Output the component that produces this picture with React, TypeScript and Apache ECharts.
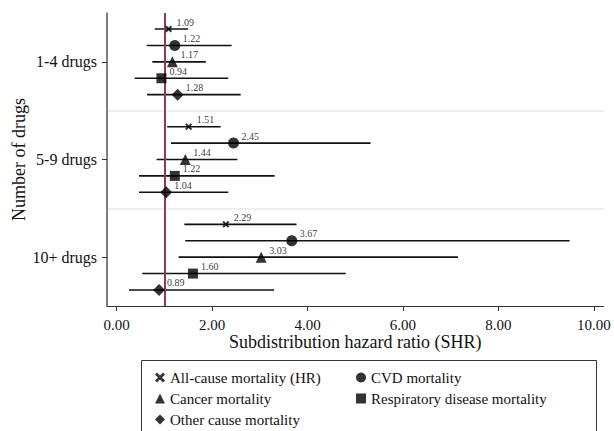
import React, { useEffect, useRef } from "react";
import * as echarts from "echarts";

const groups = ["1-4 drugs", "5-9 drugs", "10+ drugs"];
const outcomes = [
  "All-cause mortality (HR)",
  "CVD mortality",
  "Cancer mortality",
  "Respiratory disease mortality",
  "Other cause mortality",
];
// estimates per outcome, per group (1-4, 5-9, 10+)
const estAll = [1.09, 1.51, 2.29];
const loAll = [0.8, 1.06, 1.42];
const hiAll = [1.5, 2.18, 3.77];
const estCvd = [1.22, 2.45, 3.67];
const loCvd = [0.63, 1.14, 1.44];
const hiCvd = [2.41, 5.32, 9.49];
const estCancer = [1.17, 1.44, 3.03];
const loCancer = [0.75, 0.84, 1.3];
const hiCancer = [1.87, 2.53, 7.15];
const estResp = [0.94, 1.22, 1.6];
const loResp = [0.38, 0.47, 0.54];
const hiResp = [2.34, 3.31, 4.8];
const estOther = [1.28, 1.04, 0.89];
const loOther = [0.64, 0.47, 0.26];
const hiOther = [2.6, 2.34, 3.3];
const xTicks = [0, 2, 4, 6, 8, 10];
const refValue = 1;

const CROSS = "path://M2,0 L5,3 L8,0 L10,2 L7,5 L10,8 L8,10 L5,7 L2,10 L0,8 L3,5 L0,2 Z";
const FONT = "'Liberation Serif', 'Times New Roman', serif";
const ROW = 0.168;

export default function App() {
  const ref = useRef<HTMLDivElement>(null);
  useEffect(() => {
    if (!ref.current) return;
    const chart = echarts.init(ref.current, null, { renderer: "svg" });
    const est = [estAll, estCvd, estCancer, estResp, estOther];
    const lo = [loAll, loCvd, loCancer, loResp, loOther];
    const hi = [hiAll, hiCvd, hiCancer, hiResp, hiOther];
    const symbols = [CROSS, "circle", "triangle", "rect", "diamond"];
    const sizes = [7, 11, 11, 10, 12];
    const yPos = (g: number, k: number) => g + 0.5 + (k - 2) * ROW;

    const barData: number[][] = [];
    outcomes.forEach((_, k) => {
      groups.forEach((_, g) => {
        barData.push([yPos(g, k), lo[k][g], hi[k][g]]);
      });
    });

    const scatterSeries = outcomes.map((name, k) => ({
      type: "scatter",
      name,
      symbol: symbols[k],
      symbolSize: sizes[k],
      itemStyle: { color: "#000" },
      z: 5,
      data: groups.map((_, g) => [est[k][g], yPos(g, k)]),
      label: {
        show: true,
        position: "right",
        distance: 8 - sizes[k] / 2,
        offset: [0, -7],
        formatter: (p: any) => p.value[0].toFixed(2),
        fontFamily: FONT,
        fontSize: 10,
        color: "#000",
      },
    }));

    const legendCommon = {
      orient: "vertical",
      top: 370,
      padding: 0,
      height: 70,
      itemWidth: 10,
      itemHeight: 10,
      itemGap: 6,
      textStyle: { fontFamily: FONT, fontSize: 15, lineHeight: 15, color: "#111" },
    };

    chart.setOption({
      animation: false,
      textStyle: { fontFamily: FONT },
      grid: { left: 107, right: 10.5, top: 13, bottom: 125, outerBoundsMode: "none", containLabel: false },
      xAxis: {
        type: "value",
        min: -0.2,
        max: 10.2,
        name: "Subdistribution hazard ratio (SHR)",
        nameLocation: "middle",
        nameGap: 27,
        nameMoveOverlap: false,
        nameTextStyle: { fontFamily: FONT, fontSize: 18, color: "#111" },
        axisLine: { show: true, onZero: false, lineStyle: { color: "#333", width: 1 } },
        axisTick: { show: true, customValues: xTicks, length: 5, lineStyle: { color: "#333" } },
        axisLabel: {
          customValues: xTicks,
          formatter: (v: number) => v.toFixed(2),
          fontFamily: FONT,
          fontSize: 15,
          color: "#111",
          margin: 11,
        },
        splitLine: { show: false },
      },
      yAxis: [
        {
          type: "value",
          min: 0,
          max: 3,
          interval: 1,
          inverse: true,
          name: "Number of drugs",
          nameLocation: "middle",
          nameGap: 79,
          nameMoveOverlap: false,
          nameTextStyle: { fontFamily: FONT, fontSize: 18, color: "#111" },
          axisLine: { show: true, onZero: false, lineStyle: { color: "#555", width: 1.5 } },
          axisTick: { show: true, customValues: [0.5, 1.5, 2.5], length: 5, lineStyle: { color: "#333" } },
          axisLabel: {
            customValues: [0.5, 1.5, 2.5],
            formatter: (v: number) => groups[Math.round(v - 0.5)],
            fontFamily: FONT,
            fontSize: 16,
            color: "#111",
            margin: 10,
          },
          splitLine: { show: false },
        },
        {
          type: "value",
          min: 0,
          max: 3,
          interval: 1,
          inverse: true,
          position: "right",
          axisLine: { show: false },
          axisTick: { show: false },
          axisLabel: { show: false },
          splitLine: {
            show: true,
            showMinLine: false,
            showMaxLine: false,
            lineStyle: { color: "#e6eaf0", width: 1.5 },
          },
        },
      ],
      legend: [
        { ...legendCommon, left: 155, data: [outcomes[0], outcomes[2], outcomes[4]] },
        { ...legendCommon, left: 356, data: [outcomes[1], outcomes[3]] },
      ],
      graphic: [
        {
          type: "rect",
          shape: { x: 141.5, y: 360.5, width: 455, height: 100 },
          style: { fill: "none", stroke: "#333", lineWidth: 1 },
          silent: true,
        },
      ],
      series: [
        {
          type: "custom",
          name: "ci",
          z: 2,
          data: barData,
          encode: { x: [1, 2], y: 0 },
          renderItem: (params: any, api: any) => {
            const y = api.value(0);
            const a = api.coord([api.value(1), y]);
            const b = api.coord([api.value(2), y]);
            return {
              type: "line",
              shape: { x1: a[0], y1: a[1], x2: b[0], y2: b[1] },
              style: { stroke: "#111", lineWidth: 1.6 },
            };
          },
          markLine: {
            silent: true,
            symbol: "none",
            label: { show: false },
            lineStyle: { color: "#8c3a5a", width: 2, type: "solid" },
            data: [{ xAxis: refValue }],
          },
        },
        ...scatterSeries,
      ],
    });
    return () => chart.dispose();
  }, []);
  return (
    <div
      ref={ref}
      style={{ position: "absolute", left: 0, top: 0, width: 614, height: 431 }}
    />
  );
}
